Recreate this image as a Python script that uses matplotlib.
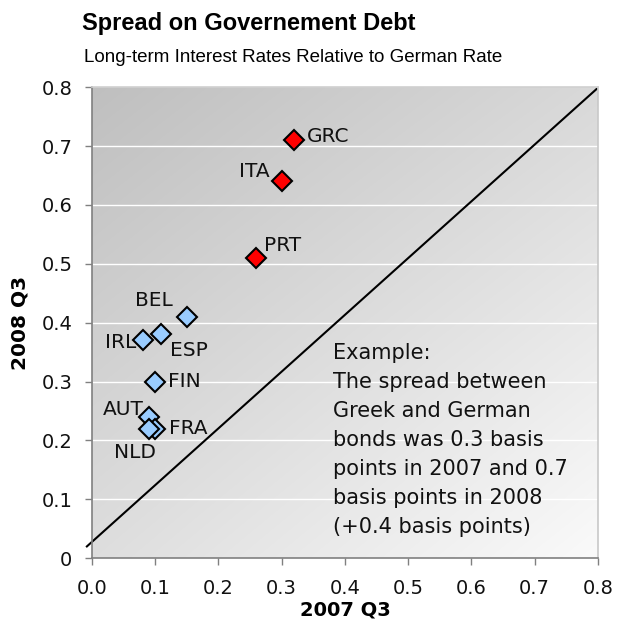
#!/usr/bin/env python3
import numpy as np
import matplotlib
matplotlib.use('Agg')
import matplotlib.pyplot as plt

# spread vs German rate
countries = ['GRC', 'ITA', 'PRT', 'BEL', 'ESP', 'IRL', 'FIN', 'AUT', 'FRA', 'NLD']
spread_2007 = [0.32, 0.30, 0.26, 0.15, 0.11, 0.08, 0.10, 0.09, 0.10, 0.09]
spread_2008 = [0.71, 0.64, 0.51, 0.41, 0.38, 0.37, 0.30, 0.24, 0.22, 0.22]
highlight = ['GRC', 'ITA', 'PRT']

# label offsets in points (dx, dy, ha)
label_pos = {
    'GRC': (9.4, 2.9, 'left'), 'ITA': (-8.6, 7.2, 'right'), 'PRT': (5.8, 9.1, 'left'),
    'BEL': (-9.9, 12, 'right'), 'ESP': (6.2, -11.7, 'left'), 'IRL': (-4.3, -1.2, 'right'),
    'FIN': (9, 0, 'left'), 'AUT': (-3.9, 5.5, 'right'), 'FRA': (9.8, 0, 'left'),
    'NLD': (4.8, -16.8, 'right'),
}

diag_x = [-0.008, 0.798]
diag_y = [0.02, 0.797]

x_ticks = [0.0, 0.1, 0.2, 0.3, 0.4, 0.5, 0.6, 0.7, 0.8]
y_ticks = [0, 0.1, 0.2, 0.3, 0.4, 0.5, 0.6, 0.7, 0.8]
x_ticklabels = ['0.0', '0.1', '0.2', '0.3', '0.4', '0.5', '0.6', '0.7', '0.8']
y_ticklabels = ['0', '0.1', '0.2', '0.3', '0.4', '0.5', '0.6', '0.7', '0.8']

note = ("Example:\nThe spread between\nGreek and German\nbonds was 0.3 basis\n"
        "points in 2007 and 0.7\nbasis points in 2008\n(+0.4 basis points)")

plt.rcParams['font.family'] = ['DejaVu Sans']

fig = plt.figure(figsize=(6.17, 6.23), dpi=100)
ax = fig.add_axes([0.149, 0.104, 0.820, 0.756])

# diagonal grey gradient background
n = 200
u = np.linspace(0, 1, n)
U, V = np.meshgrid(u, u)  # V=0 at top row
tl, tr, bl, br = 0.75, 0.85, 0.87, 0.98
g = (tl * (1 - U) * (1 - V) + tr * U * (1 - V) + bl * (1 - U) * V + br * U * V)
ax.imshow(np.dstack([g, g, g]), extent=[0, 0.8, 0, 0.8], aspect='auto',
          zorder=0, interpolation='bilinear')

ax.set_xlim(0, 0.8)
ax.set_ylim(0, 0.8)
for yv in y_ticks[1:-1]:
    ax.axhline(yv, color='white', lw=1.0, zorder=1)

ax.plot(diag_x, diag_y, color='black', lw=1.5, zorder=2, clip_on=False)

for c, x, y in zip(countries, spread_2007, spread_2008):
    fc = '#ff0000' if c in highlight else '#99ccff'
    ax.plot(x, y, marker='D', ms=10.5, mfc=fc, mec='black', mew=1.5, zorder=3,
            linestyle='none')
    dx, dy, ha = label_pos[c]
    ax.annotate(c, (x, y), xytext=(dx, dy), textcoords='offset points',
                ha=ha, va='center', fontsize=14.5, color='#111111', zorder=4)

ax.text(0.381, 0.365, note, fontsize=15, va='top', ha='left',
        linespacing=1.56, color='#111111', zorder=4)

ax.set_xticks(x_ticks)
ax.set_xticklabels(x_ticklabels)
ax.set_yticks(y_ticks)
ax.set_yticklabels(y_ticklabels)
ax.tick_params(axis='both', labelsize=14, colors='#808080', length=5,
               width=1, labelcolor='#111111')
ax.tick_params(axis='x', direction='out', pad=10)
ax.tick_params(axis='y', pad=9)

ax.spines['left'].set_color('#808080')
ax.spines['bottom'].set_color('#808080')
ax.spines['top'].set_color('#d0d0d0')
ax.spines['right'].set_color('#c8c8c8')
for s in ax.spines.values():
    s.set_linewidth(1.2)

ax.set_xlabel('2007 Q3', fontsize=14, fontweight='bold')
ax.set_ylabel('2008 Q3', fontsize=14.5, fontweight='bold')
ax.xaxis.set_label_coords(0.5, -0.09)
ax.yaxis.set_label_coords(-0.124, 0.5)

fig.text(0.133, 0.963, 'Spread on Governement Debt', fontsize=17,
         fontweight='bold', ha='left', va='center', family=['Liberation Sans'])
fig.text(0.136, 0.908, 'Long-term Interest Rates Relative to German Rate',
         fontsize=13.5, ha='left', va='center', family=['Liberation Sans'])

fig.savefig('out.png', dpi=100)
